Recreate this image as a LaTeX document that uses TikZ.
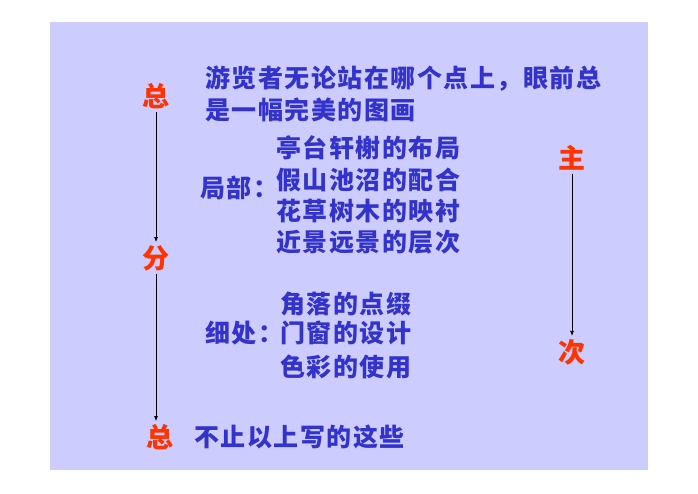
\documentclass[tikz,border=0pt]{standalone}
\usepackage{fontspec}
\newfontfamily\cjk{Noto Sans CJK SC}[LetterSpace=6]
\definecolor{bglav}{RGB}{204,204,255}
\definecolor{tblue}{RGB}{51,51,204}
\definecolor{tred}{RGB}{255,51,0}
\usetikzlibrary{arrows.meta,positioning}

\begin{document}
\begin{tikzpicture}[x=1pt,y=-1pt,
  txt/.style={font=\cjk\bfseries\fontsize{25}{28}\selectfont,text=tblue,inner sep=0pt,anchor=west},
  redch/.style={font=\cjk\bfseries\fontsize{27}{28}\selectfont,text=tred,inner sep=3pt},
  link/.style={-{Latex[length=5pt,width=4pt]},line width=0.7pt,black}]
  \useasboundingbox (0,0) rectangle (698,493);
  \fill[bglav] (50,22) rectangle (648,470);
  % left column: zong - fen - zong
  \node[redch] (zongA) at (156,96) {总};
  \node[redch] (fen) at (156,258) {分};
  \node[redch] (zongB) at (160,437) {总};
  \draw[link] (zongA.south) -- (zongA.south |- fen.north);
  \draw[link] (fen.south) -- (fen.south |- zongB.north);
  % right column: zhu - ci
  \node[redch] (zhu) at (572,158) {主};
  \node[redch] (ci) at (572,352) {次};
  \draw[link] (zhu.south) -- (ci.north);
  % texts
  \node[txt] (intro1) at (205,79) {游览者无论站在哪个点上，眼前总};
  \node[txt] (intro2) at (205,110) {是一幅完美的图画};
  \node[txt] (jubu) at (200,188) {局部：};
  \foreach \t/\y [count=\i] in {亭台轩榭的布局/148,假山池沼的配合/180,花草树木的映衬/211,近景远景的层次/242}
    \node[txt] (ju\i) at (276,\y) {\t};
  \node[txt] (xichu) at (205,333) {细处：};
  \foreach \t/\y [count=\i] in {角落的点缀/304,门窗的设计/333,色彩的使用/367}
    \node[txt] (xi\i) at (280,\y) {\t};
  \node[txt] (end) at (194,437) {不止以上写的这些};
\end{tikzpicture}
\end{document}
